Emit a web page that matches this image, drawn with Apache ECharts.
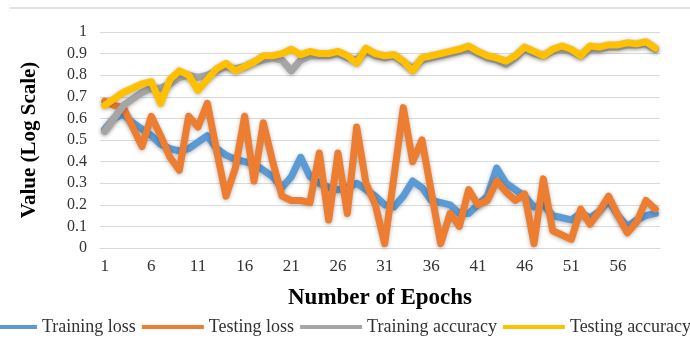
<!DOCTYPE html>
<html>
<head>
<meta charset="utf-8">
<script src="https://cdn.jsdelivr.net/npm/echarts@6/dist/echarts.min.js"></script>
<style>
html,body{margin:0;padding:0;background:#fff;}
#chart{width:690px;height:343px;}
</style>
</head>
<body>
<div id="chart"></div>
<script>
const epochs = Array.from({length: 60}, (_, i) => String(i + 1));

const trainingLoss = [
  0.55, 0.60, 0.62, 0.58, 0.55, 0.52, 0.48, 0.46, 0.45, 0.46,
  0.49, 0.52, 0.46, 0.43, 0.41, 0.40, 0.39, 0.36, 0.33, 0.28,
  0.33, 0.42, 0.33, 0.30, 0.28, 0.27, 0.28, 0.30, 0.27, 0.24,
  0.20, 0.19, 0.24, 0.31, 0.28, 0.22, 0.21, 0.20, 0.16, 0.16,
  0.20, 0.24, 0.37, 0.30, 0.27, 0.24, 0.19, 0.20, 0.15, 0.14,
  0.13, 0.16, 0.14, 0.17, 0.22, 0.15, 0.10, 0.13, 0.15, 0.16
];
const testingLoss = [
  0.68, 0.66, 0.65, 0.56, 0.47, 0.61, 0.52, 0.42, 0.36, 0.61,
  0.56, 0.67, 0.45, 0.24, 0.37, 0.61, 0.31, 0.58, 0.40, 0.24,
  0.22, 0.22, 0.21, 0.44, 0.13, 0.44, 0.16, 0.56, 0.30, 0.20,
  0.02, 0.33, 0.65, 0.40, 0.50, 0.26, 0.02, 0.16, 0.10, 0.27,
  0.20, 0.22, 0.31, 0.26, 0.22, 0.25, 0.02, 0.32, 0.08, 0.06,
  0.04, 0.18, 0.11, 0.17, 0.24, 0.15, 0.07, 0.12, 0.22, 0.18
];
const trainingAccuracy = [
  0.54, 0.60, 0.66, 0.69, 0.72, 0.74, 0.74, 0.76, 0.79, 0.80,
  0.79, 0.80, 0.82, 0.84, 0.83, 0.84, 0.86, 0.87, 0.88, 0.87,
  0.82, 0.87, 0.89, 0.89, 0.89, 0.90, 0.88, 0.87, 0.91, 0.89,
  0.88, 0.89, 0.86, 0.83, 0.87, 0.88, 0.89, 0.90, 0.91, 0.92,
  0.90, 0.88, 0.87, 0.85, 0.88, 0.92, 0.90, 0.89, 0.91, 0.92,
  0.91, 0.89, 0.92, 0.92, 0.93, 0.93, 0.94, 0.94, 0.945, 0.92
];
const testingAccuracy = [
  0.66, 0.69, 0.72, 0.74, 0.76, 0.77, 0.67, 0.78, 0.82, 0.80,
  0.73, 0.78, 0.83, 0.855, 0.82, 0.84, 0.86, 0.89, 0.89, 0.90,
  0.92, 0.895, 0.91, 0.90, 0.90, 0.91, 0.89, 0.855, 0.925, 0.90,
  0.89, 0.895, 0.865, 0.82, 0.88, 0.89, 0.90, 0.91, 0.92, 0.935,
  0.91, 0.89, 0.88, 0.865, 0.89, 0.93, 0.91, 0.89, 0.92, 0.935,
  0.92, 0.89, 0.935, 0.93, 0.94, 0.94, 0.95, 0.945, 0.955, 0.925
];

const seriesNames = ['Training loss', 'Testing loss', 'Training accuracy', 'Testing accuracy'];
const seriesData = [trainingLoss, testingLoss, trainingAccuracy, testingAccuracy];
const seriesColors = ['#5B9BD5', '#ED7D31', '#A5A5A5', '#FFC000'];

const chart = echarts.init(document.getElementById('chart'), null, {renderer: 'canvas'});

const serifFont = '"Liberation Serif", "Times New Roman", serif';

chart.setOption({
  animation: false,
  backgroundColor: '#ffffff',
  graphic: [{
    type: 'line',
    shape: {x1: 10, y1: 8, x2: 690, y2: 8},
    style: {stroke: '#e2e2e2', lineWidth: 2}
  }],
  grid: {left: 100, right: 30, top: 32, bottom: 95, containLabel: false},
  legend: {
    left: -30,
    top: 313,
    width: 1200,
    icon: 'rect',
    itemWidth: 62,
    itemHeight: 4,
    itemGap: 6,
    textStyle: {fontFamily: serifFont, fontSize: 18, color: '#333333'},
    data: seriesNames
  },
  xAxis: {
    type: 'category',
    data: epochs,
    boundaryGap: true,
    name: 'Number of Epochs',
    nameLocation: 'middle',
    nameGap: 39,
    nameTextStyle: {fontFamily: serifFont, fontWeight: 'bold', fontSize: 23, color: '#000'},
    axisLine: {lineStyle: {color: '#D9D9D9', width: 1}},
    axisTick: {show: false},
    axisLabel: {interval: 4, fontFamily: serifFont, fontSize: 17, color: '#333333', margin: 10}
  },
  yAxis: {
    type: 'value',
    min: 0,
    max: 1,
    interval: 0.1,
    name: 'Value (Log Scale)',
    nameLocation: 'middle',
    nameGap: 60,
    nameTextStyle: {fontFamily: serifFont, fontWeight: 'bold', fontSize: 21, color: '#000'},
    axisLine: {show: false},
    axisTick: {show: false},
    axisLabel: {fontFamily: serifFont, fontSize: 16, color: '#333333', margin: 13},
    splitLine: {lineStyle: {color: '#D9D9D9', width: 1}}
  },
  series: seriesNames.map((name, k) => ({
    name: name,
    type: 'line',
    data: seriesData[k],
    symbol: 'none',
    smooth: false,
    color: seriesColors[k],
    lineStyle: {
      width: 7,
      color: seriesColors[k],
      cap: 'round',
      join: 'round',
      shadowColor: 'rgba(0,0,0,0.3)',
      shadowBlur: 4,
      shadowOffsetY: 1
    },
    z: 2 + k
  }))
});
</script>
</body>
</html>
